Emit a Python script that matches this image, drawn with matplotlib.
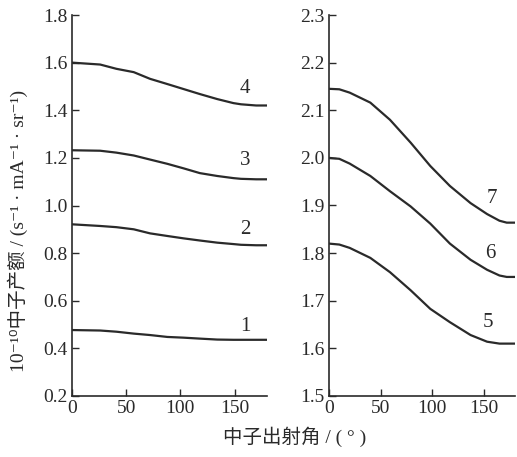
import matplotlib
matplotlib.use("Agg")
import matplotlib.pyplot as plt

# ---- data ----
x_left = [0, 26, 41, 57, 72, 88, 103, 118, 134, 149, 156, 170, 180]
curve4 = [1.600, 1.592, 1.574, 1.560, 1.532, 1.510, 1.489, 1.468, 1.447, 1.430, 1.425, 1.420, 1.420]
curve3 = [1.232, 1.230, 1.222, 1.210, 1.193, 1.175, 1.156, 1.136, 1.124, 1.115, 1.112, 1.110, 1.110]
curve2 = [0.921, 0.914, 0.909, 0.900, 0.883, 0.872, 0.862, 0.853, 0.844, 0.838, 0.835, 0.833, 0.833]
curve1 = [0.477, 0.475, 0.470, 0.462, 0.456, 0.448, 0.445, 0.441, 0.437, 0.436, 0.436, 0.436, 0.436]

x_right = [0, 10, 20, 40, 59, 79, 98, 117, 137, 153, 165, 172, 180]
curve7 = [2.145, 2.144, 2.137, 2.116, 2.080, 2.032, 1.983, 1.941, 1.905, 1.882, 1.868, 1.864, 1.864]
curve6 = [2.000, 1.998, 1.988, 1.962, 1.930, 1.898, 1.862, 1.820, 1.786, 1.765, 1.753, 1.750, 1.750]
curve5 = [1.820, 1.818, 1.811, 1.790, 1.760, 1.722, 1.683, 1.655, 1.628, 1.614, 1.610, 1.610, 1.610]

left_labels = ["4", "3", "2", "1"]
right_labels = ["7", "6", "5"]
left_label_pos = [(160, 1.49), (160, 1.19), (160, 0.90), (160, 0.49)]
right_label_pos = [(158, 1.915), (156, 1.80), (154, 1.654)]

xticks = [0, 50, 100, 150]
left_yticks = [0.2, 0.4, 0.6, 0.8, 1.0, 1.2, 1.4, 1.6, 1.8]
right_yticks = [1.5, 1.6, 1.7, 1.8, 1.9, 2.0, 2.1, 2.2, 2.3]

ylabel = "10\u207b\u00b9\u2070中子产额 / (s\u207b\u00b9 · mA\u207b\u00b9 · sr\u207b\u00b9)"
xlabel = "中子出射角 / ( ° )"

fam = ["Liberation Serif", "Noto Sans CJK SC", "DejaVu Sans"]
plt.rcParams["font.family"] = fam

W, H = 517, 457
fig = plt.figure(figsize=(W / 100, H / 100), dpi=100)
axL = fig.add_axes([72 / W, 1 - 396 / H, (267 - 72) / W, (396 - 15) / H])
axR = fig.add_axes([329 / W, 1 - 396 / H, (515 - 329) / W, (396 - 15) / H])

col = "#2a2a2a"
for ax, xs, curves in [(axL, x_left, [curve4, curve3, curve2, curve1]),
                       (axR, x_right, [curve7, curve6, curve5])]:
    for c in curves:
        ax.plot(xs, c, color=col, lw=1.6)
    ax.set_xlim(0, 180)
    ax.set_xticks(xticks)
    for s in ["top", "right"]:
        ax.spines[s].set_visible(False)
    for s in ["left", "bottom"]:
        ax.spines[s].set_linewidth(1.2)
        ax.spines[s].set_color(col)
    ax.tick_params(direction="in", length=5, width=1.0, colors=col,
                   labelsize=14, pad=3)

axL.set_ylim(0.2, 1.8)
axL.set_yticks(left_yticks)
axL.set_yticklabels([f"{v:.1f}" for v in left_yticks])
axR.set_ylim(1.5, 2.3)
axR.set_yticks(right_yticks)
axR.set_yticklabels([f"{v:.1f}" for v in right_yticks])

for t, (xx, yy) in zip(left_labels, left_label_pos):
    axL.text(xx, yy, t, fontsize=15, ha="center", va="center", color=col)
for t, (xx, yy) in zip(right_labels, right_label_pos):
    axR.text(xx, yy, t, fontsize=15, ha="center", va="center", color=col)

fig.text(18 / W, 1 - 231 / H, ylabel, rotation=90, ha="center", va="center",
         fontsize=14, color=col)
fig.text(295 / W, 1 - 437 / H, xlabel, ha="center", va="center",
         fontsize=14, color=col)

fig.savefig("out.png", dpi=100)
